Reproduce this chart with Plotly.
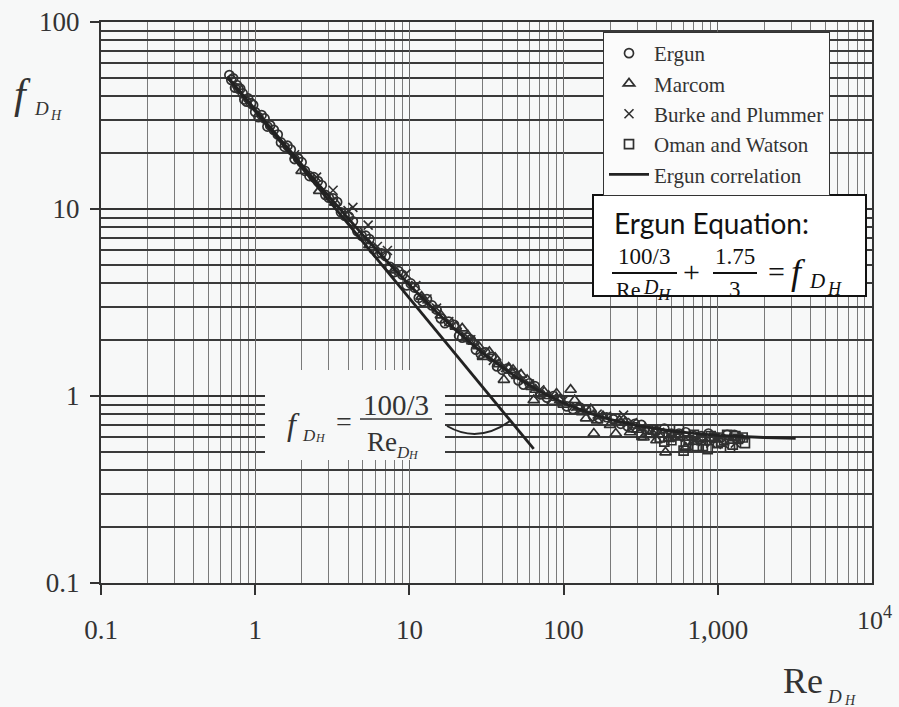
import plotly.graph_objects as go

# ---------------- data ----------------
ergun_re = [0.68, 0.72, 0.76, 0.80, 0.85, 0.90, 0.97, 1.05, 1.15, 1.25, 1.4, 1.55, 1.7, 1.9, 2.1,
            2.4, 2.7, 3.0, 3.4, 3.8, 4.3, 4.9, 5.5, 6.2, 7.0, 8.0, 9.0, 10.2, 11.5, 13, 15, 17, 19.5,
            22, 25, 29, 34, 40, 47, 55, 65, 78, 95, 115, 140, 170, 210, 260, 320, 400, 500, 620,
            780, 950, 1150, 1400,
            0.70, 0.74, 0.78, 0.83, 0.88, 0.94, 1.0, 1.1, 1.2, 1.32, 1.47, 1.62, 1.8, 2.0, 2.25,
            2.55, 2.85, 3.2, 3.6, 4.05, 4.6, 5.2, 5.85, 6.6, 7.5, 8.5, 9.6, 10.8, 12.2, 14, 16, 18,
            21, 23.5, 27, 31, 37, 43, 51, 60, 71, 86, 105, 127, 155, 190, 235, 290, 360, 450, 560,
            700, 870, 1050, 1280]
ergun_f = [52, 50, 46, 44, 38.5, 39, 36, 31, 30.5, 28, 25, 21.5, 20.8, 18.6, 16, 14.8, 13.4, 11.5,
           10.9, 9.2, 8.6, 7.2, 6.9, 5.8, 5.6, 4.6, 4.45, 4.0, 3.35, 3.3, 2.9, 2.45, 2.4, 2.05, 2.0,
           1.68, 1.62, 1.38, 1.33, 1.15, 1.13, 0.98, 0.96, 0.85, 0.84, 0.76, 0.75, 0.69, 0.70, 0.65,
           0.63, 0.64, 0.61, 0.60, 0.62, 0.59,
           49, 44.5, 44, 41.5, 37.5, 36.8, 33, 31.8, 27.6, 26.5, 22.7, 21.8, 18.5, 17.8, 15.0,
           14.1, 11.9, 11.4, 9.6, 9.1, 7.6, 7.2, 6.1, 5.8, 4.9, 4.65, 3.9, 3.8, 3.2, 3.05, 2.6, 2.5,
           2.1, 2.06, 1.77, 1.71, 1.44, 1.40, 1.21, 1.17, 1.02, 1.0, 0.88, 0.87, 0.78, 0.77, 0.71,
           0.71, 0.66, 0.67, 0.63, 0.61, 0.63, 0.60, 0.62]

marcom_re = [2.0, 2.6, 3.3, 5.5, 8, 12, 16, 20, 24, 28, 33, 38, 41, 44, 47, 50, 58, 64, 66, 75,
             85, 95, 111, 125, 140, 157, 180, 218, 250, 300, 360, 458, 550, 700,
             22, 26, 30, 36, 53, 62, 70, 80, 90, 100, 118, 132, 150, 165, 200, 230, 270, 330, 400,
             480, 620]
marcom_f = [16, 12.5, 10.8, 6.4, 4.7, 3.4, 2.7, 2.35, 2.1, 1.85, 1.72, 1.48, 1.22, 1.42, 1.38, 1.28,
            1.22, 0.95, 1.08, 1.05, 0.93, 0.95, 1.08, 0.87, 0.76, 0.63, 0.78, 0.63, 0.72, 0.66,
            0.62, 0.50, 0.60, 0.57,
            2.3, 1.95, 1.62, 1.6, 1.3, 1.12, 1.02, 1.0, 1.03, 0.9, 0.95, 0.82, 0.85, 0.74, 0.7,
            0.74, 0.64, 0.6, 0.58, 0.59, 0.53]

burke_re = [1.8, 2.5, 3.2, 4.3, 5.4, 7.2, 9.5, 13, 18, 25, 35, 50, 70, 100, 140, 190, 245, 320,
            420, 550, 700, 900, 1100,
            4.0, 6.2, 11, 15, 30, 42, 60, 85, 120, 165, 280, 380, 480, 620, 800, 1000, 1300]
burke_f = [19.5, 14.8, 12.6, 10.2, 8.2, 6.0, 4.5, 3.3, 2.5, 2.0, 1.55, 1.32, 1.08, 0.95, 0.84,
           0.78, 0.79, 0.68, 0.64, 0.60, 0.58, 0.56, 0.55,
           9.8, 6.3, 3.9, 2.95, 1.72, 1.42, 1.16, 0.98, 0.88, 0.8, 0.72, 0.66, 0.62, 0.6, 0.57,
           0.59, 0.56]

oman_re = [280, 350, 420, 480, 500, 560, 600, 620, 700, 780, 800, 860, 950, 1000, 1050, 1150,
           1200, 1250, 1350, 1450,
           320, 380, 450, 530, 650, 730, 900, 1100, 1300, 1500]
oman_f = [0.68, 0.64, 0.60, 0.61, 0.58, 0.66, 0.51, 0.55, 0.62, 0.58, 0.54, 0.52, 0.60, 0.56,
          0.57, 0.62, 0.53, 0.55, 0.59, 0.60,
          0.62, 0.66, 0.57, 0.62, 0.58, 0.54, 0.61, 0.58, 0.61, 0.56]

corr_re = [0.66, 0.8, 1, 1.3, 1.7, 2, 2.5, 3, 4, 5, 7, 10, 15, 20, 30, 50, 70, 100, 150, 200,
           300, 500, 700, 1000, 2000, 3200]
corr_f = [51.1, 42.3, 33.9, 26.2, 20.2, 17.25, 13.9, 11.7, 8.92, 7.25, 5.35, 3.92, 2.81, 2.25,
          1.69, 1.25, 1.06, 0.917, 0.805, 0.75, 0.694, 0.65, 0.631, 0.616, 0.6, 0.594]

laminar_re = [0.66, 64]
laminar_f = [50.5, 0.521]

x_tickvals = [0.1, 1, 10, 100, 1000]
x_ticktext = ["0.1", "1", "10", "100", "1,000"]
y_tickvals = [0.1, 1, 10, 100]
y_ticktext = ["0.1", "1", "10", "100"]

# ---------------- layout helpers ----------------
W, H = 899, 707
L, R, T, B = 101, 27, 22, 124
PW, PH = W - L - R, H - T - B


def px(x):
    return (x - L) / PW


def py(y):
    return (H - B - y) / PH


minor_x = [d * 10 ** k for k in range(-1, 4) for d in range(2, 10)]
minor_y = [d * 10 ** k for k in range(-1, 2) for d in range(2, 10)]

INK = "#333333"
MK = "#303030"
SERIF = "Liberation Serif, Times New Roman, serif"

fig = go.Figure()

fig.add_trace(go.Scatter(x=ergun_re, y=ergun_f, mode="markers", name="Ergun",
                         marker=dict(symbol="circle-open", size=9, color=MK, line=dict(width=1.7))))
fig.add_trace(go.Scatter(x=marcom_re, y=marcom_f, mode="markers", name="Marcom",
                         marker=dict(symbol="triangle-up-open", size=10, color=MK, line=dict(width=1.7))))
fig.add_trace(go.Scatter(x=burke_re, y=burke_f, mode="markers", name="Burke and Plummer",
                         marker=dict(symbol="x-thin-open", size=9, color=MK, line=dict(width=1.6, color=MK))))
fig.add_trace(go.Scatter(x=oman_re, y=oman_f, mode="markers", name="Oman and Watson",
                         marker=dict(symbol="square-open", size=9, color=MK, line=dict(width=1.7))))
fig.add_trace(go.Scatter(x=corr_re, y=corr_f, mode="lines", name="Ergun correlation",
                         line=dict(color="#222222", width=2.8)))
fig.add_trace(go.Scatter(x=laminar_re, y=laminar_f, mode="lines", showlegend=False,
                         line=dict(color="#222222", width=2.8)))

fig.update_xaxes(type="log", range=[-1, 4], tickmode="array", tickvals=x_tickvals,
                 ticktext=x_ticktext, ticks="outside", ticklen=10, tickwidth=1.5, tickcolor=INK,
                 showgrid=True, gridcolor="#6a6a6a", gridwidth=1,
                 minor=dict(tickmode="array", tickvals=minor_x, showgrid=True,
                            gridcolor="#7a7a7a", gridwidth=1, ticks=""),
                 showline=True, linecolor=INK, linewidth=2, mirror=True,
                 tickfont=dict(family=SERIF, size=27, color=INK), ticklabelstandoff=12,
                 zeroline=False)
fig.update_yaxes(type="log", range=[-1, 2], tickmode="array", tickvals=y_tickvals,
                 ticktext=y_ticktext, ticks="outside", ticklen=9, tickwidth=1.5, tickcolor=INK,
                 showgrid=True, gridcolor="#333333", gridwidth=2,
                 minor=dict(tickmode="array", tickvals=minor_y, showgrid=True,
                            gridcolor="#3a3a3a", gridwidth=2, ticks=""),
                 showline=True, linecolor=INK, linewidth=2, mirror=True,
                 tickfont=dict(family=SERIF, size=27, color=INK), ticklabelstandoff=5,
                 zeroline=False)

BG = "#f7f8f8"
fig.update_layout(
    width=W, height=H, margin=dict(l=L, r=R, t=T, b=B, autoexpand=False),
    paper_bgcolor=BG, plot_bgcolor=BG,
    legend=dict(x=px(603), y=py(32), xanchor="left", yanchor="top",
                bgcolor="#fbfbfb", bordercolor=INK, borderwidth=1,
                font=dict(family=SERIF, size=21, color=INK), itemwidth=40,
                tracegroupgap=0),
)

ann = []
shapes = []


def text(x, y, s, size, family=SERIF, italic=False, xanchor="center", color=INK):
    if italic:
        s = "<i>" + s + "</i>"
    ann.append(dict(x=px(x), y=py(y), xref="paper", yref="paper", text=s, showarrow=False,
                    xanchor=xanchor, yanchor="middle",
                    font=dict(family=family, size=size, color=color)))


# y-axis title f_{D_H}
text(22, 94, "f", 42, italic=True)
text(42, 108, "D", 19, italic=True)
text(56, 115, "H", 14, italic=True)
# x-axis title Re_{D_H}
text(803, 681, "Re", 36)
text(834, 696, "D", 19, italic=True)
text(850, 700, "H", 14, italic=True)
# 10^4 tick label
text(874, 618, "10<sup>4</sup>", 26)

# laminar formula box
shapes.append(dict(type="rect", xref="paper", yref="paper", x0=px(265), x1=px(445),
                   y0=py(460), y1=py(370), fillcolor=BG, line=dict(width=0), layer="above"))
text(293, 424, "f", 32, italic=True)
text(309, 435, "D", 17, italic=True)
text(320, 438, "H", 12, italic=True)
text(344, 421, "=", 28)
text(396, 405, "100/3", 29)
shapes.append(dict(type="line", xref="paper", yref="paper", x0=px(360), x1=px(432),
                   y0=py(419), y1=py(419), line=dict(color=INK, width=1.5), layer="above"))
text(382, 442, "Re", 27)
text(403, 452, "D", 17, italic=True)
text(413, 455, "H", 12, italic=True)
# curved pointer
shapes.append(dict(type="path", xref="paper", yref="paper",
                   path="M %f,%f Q %f,%f %f,%f" % (px(447), py(426), px(478), py(444), px(510), py(421)),
                   line=dict(color="#262626", width=2), layer="above"))

# Ergun equation box
shapes.append(dict(type="rect", xref="paper", yref="paper", x0=px(593), x1=px(866),
                   y0=py(296), y1=py(195), fillcolor="#ffffff",
                   line=dict(color="#111111", width=2), layer="above"))
SANS = "Lato, Open Sans, sans-serif"
text(612, 223, "Ergun Equation:", 28, family=SANS, xanchor="left", color="#111111")
text(644, 256, "100/3", 23, color="#111111")
shapes.append(dict(type="line", xref="paper", yref="paper", x0=px(612), x1=px(677),
                   y0=py(273), y1=py(273), line=dict(color="#111111", width=2), layer="above"))
text(628, 290, "Re", 22, color="#111111")
text(651, 287, "D", 20, italic=True, color="#111111")
text(664, 295, "H", 17, italic=True, color="#111111")
text(691, 271, "+", 30, color="#111111")
text(735, 256, "1.75", 23, color="#111111")
shapes.append(dict(type="line", xref="paper", yref="paper", x0=px(713), x1=px(757),
                   y0=py(273), y1=py(273), line=dict(color="#111111", width=2), layer="above"))
text(735, 290, "3", 23, color="#111111")
text(776, 271, "=", 30, color="#111111")
text(798, 272, "f", 36, italic=True, color="#111111")
text(817, 281, "D", 21, italic=True, color="#111111")
text(834, 289, "H", 18, italic=True, color="#111111")

fig.update_layout(annotations=ann, shapes=shapes)
fig.write_html("out.html", config={"displayModeBar": False},
               post_script="document.body.style.margin='0px';")
